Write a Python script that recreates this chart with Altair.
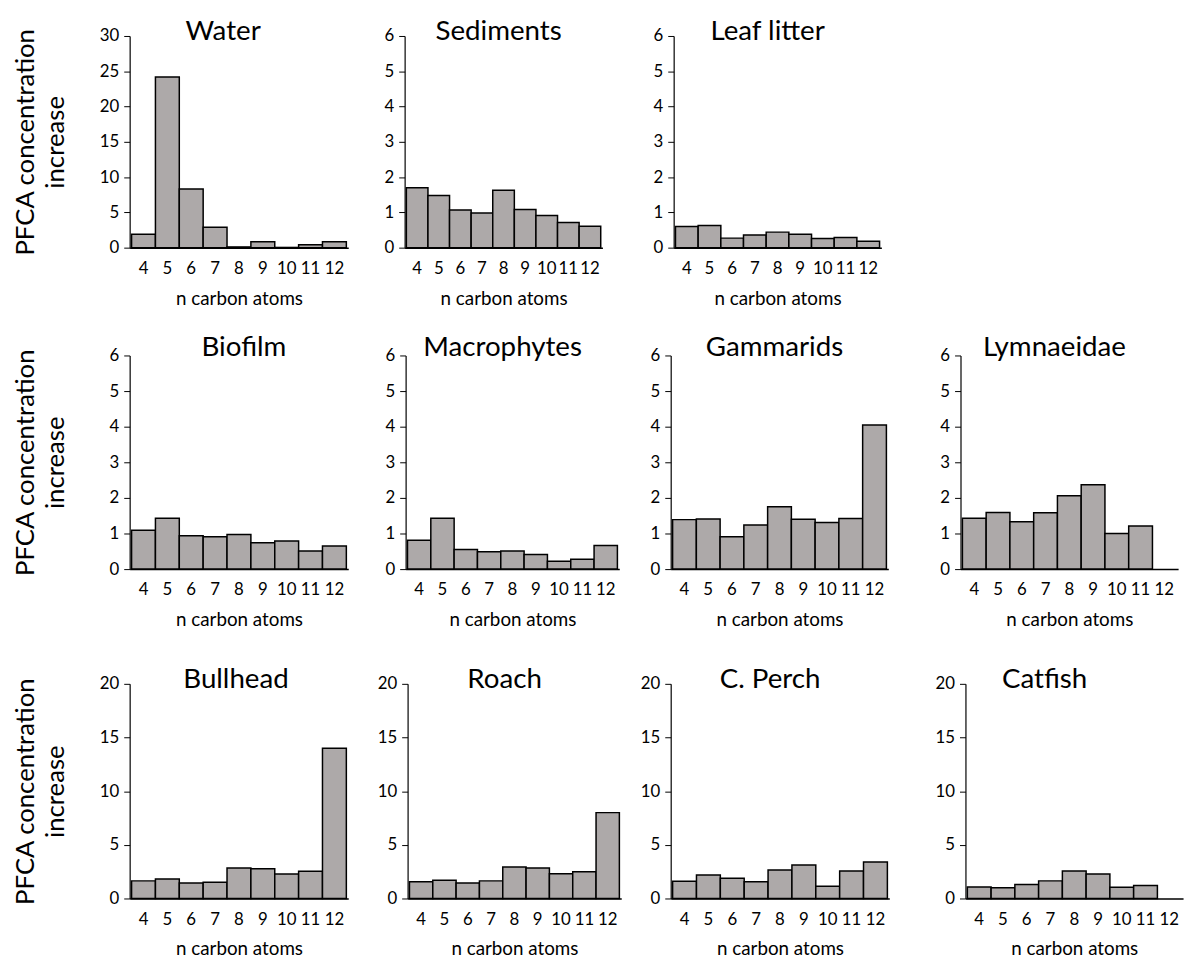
import altair as alt
import pandas as pd

carbons = ["4", "5", "6", "7", "8", "9", "10", "11", "12"]

water = [1.9, 24.2, 8.3, 2.9, 0.1, 0.85, 0.03, 0.4, 0.85]
sediments = [1.70, 1.48, 1.07, 0.98, 1.63, 1.08, 0.91, 0.71, 0.61]
leaf_litter = [0.60, 0.63, 0.27, 0.36, 0.44, 0.38, 0.26, 0.29, 0.18]
biofilm = [1.09, 1.43, 0.94, 0.91, 0.97, 0.74, 0.79, 0.51, 0.65]
macrophytes = [0.81, 1.43, 0.55, 0.49, 0.51, 0.41, 0.22, 0.28, 0.66]
gammarids = [1.39, 1.41, 0.91, 1.24, 1.75, 1.40, 1.31, 1.42, 4.05]
lymnaeidae = [1.43, 1.59, 1.33, 1.58, 2.06, 2.37, 1.00, 1.21]
bullhead = [1.64, 1.82, 1.45, 1.51, 2.84, 2.78, 2.28, 2.53, 14.0]
roach = [1.57, 1.70, 1.45, 1.64, 2.93, 2.84, 2.31, 2.50, 8.0]
c_perch = [1.61, 2.19, 1.89, 1.55, 2.66, 3.12, 1.14, 2.57, 3.40]
catfish = [1.08, 0.99, 1.30, 1.64, 2.57, 2.29, 1.05, 1.21]

FONT = "Lato"
BAR = "#ADA9A9"


def panel(title, values, ymax, step, width, height, left, dx=0, offset=0, ytitle=False):
    df = pd.DataFrame({"n": carbons[:len(values)], "v": values})
    yaxis_kw = dict(
        values=list(range(0, ymax + 1, step)),
        grid=False,
        tickSize=6,
        tickColor="black",
        domainColor="black",
        domainWidth=1.2,
        labelFontSize=17,
        labelColor="black",
        labelPadding=5,
        minExtent=left,
        maxExtent=left,
    )
    if ytitle:
        yaxis_kw.update(
            title=["PFCA concentration", "increase"],
            titleFontSize=26,
            titleFontWeight="normal",
            titleColor="black",
            titleLineHeight=30,
            titlePadding=26,
        )
    else:
        yaxis_kw.update(title=None)
    return (
        alt.Chart(df)
        .mark_bar(color=BAR, stroke="black", strokeWidth=1.5)
        .encode(
            x=alt.X(
                "n:O",
                sort=carbons,
                scale=alt.Scale(domain=carbons, paddingInner=0, paddingOuter=0.08),
                axis=alt.Axis(
                    title="n carbon atoms",
                    labelAngle=0,
                    ticks=False,
                    domainColor="black",
                    domainWidth=1.5,
                    labelFontSize=17,
                    labelColor="black",
                    labelPadding=13,
                    titleFontSize=19,
                    titleFontWeight="normal",
                    titleColor="black",
                    titlePadding=13,
                ),
            ),
            y=alt.Y(
                "v:Q",
                scale=alt.Scale(domain=[0, ymax], nice=False),
                axis=alt.Axis(**yaxis_kw),
            ),
        )
        .properties(
            width=width,
            height=height,
            title=alt.TitleParams(
                title, fontSize=28, fontWeight="normal", color="black",
                font=FONT, dx=dx, offset=offset, anchor="middle",
            ),
        )
    )


row1 = alt.hconcat(
    panel("Water", water, 30, 5, 221, 214, 36, dx=-16, offset=-19, ytitle=True),
    panel("Sediments", sediments, 6, 1, 200, 214, 57, dx=-5, offset=-19),
    panel("Leaf litter", leaf_litter, 6, 1, 210, 214, 72, dx=-10, offset=-19),
    spacing=0,
)
row2 = alt.hconcat(
    panel("Biofilm", biofilm, 6, 1, 221, 216, 36, dx=5, offset=-16, ytitle=True),
    panel("Macrophytes", macrophytes, 6, 1, 216, 216, 58, dx=-10, offset=-16),
    panel("Gammarids", gammarids, 6, 1, 220, 216, 52, dx=-5, offset=-16),
    panel("Lymnaeidae", lymnaeidae, 6, 1, 220, 216, 73, dx=-15, offset=-16),
    spacing=0,
)
row3 = alt.hconcat(
    panel("Bullhead", bullhead, 20, 5, 221, 217, 36, dx=-3, offset=-19, ytitle=True),
    panel("Roach", roach, 20, 5, 216, 217, 60, dx=-10, offset=-19),
    panel("C. Perch", c_perch, 20, 5, 221, 217, 50, dx=-10, offset=-19),
    panel("Catfish", catfish, 20, 5, 220, 217, 77, dx=-30, offset=-19),
    spacing=0,
)

chart = (
    alt.vconcat(alt.vconcat(row1, row2, spacing=27), row3, spacing=37)
    .configure(font=FONT)
    .configure_view(stroke=None)
    .configure_axis(labelFont=FONT, titleFont=FONT)
    .configure_title(font=FONT)
)

chart.save("out.html", embed_options={"renderer": "svg", "actions": False})
